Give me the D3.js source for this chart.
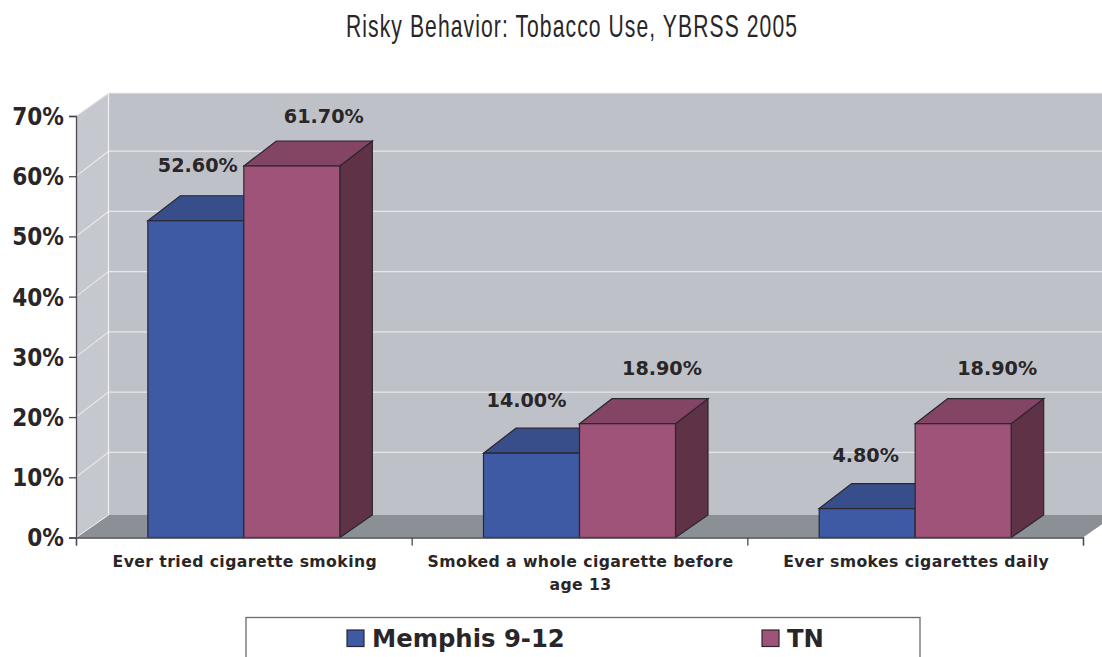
<!DOCTYPE html>
<html>
<head>
<meta charset="utf-8">
<script src="https://cdn.jsdelivr.net/npm/d3@7"></script>
<style>
html,body{margin:0;padding:0;background:#fff;overflow:hidden;}
text{fill:#2a2628;font-family:"DejaVu Sans",sans-serif;font-weight:bold;}
</style>
</head>
<body>
<svg id="chart" width="1102" height="657"></svg>
<script>
var categories=[["Ever tried cigarette smoking"],["Smoked a whole cigarette before","age 13"],["Ever smokes cigarettes daily"]];
var seriesNames=["Memphis 9-12","TN"];
var memphis=[52.6,14.0,4.8];
var tn=[61.7,18.9,18.9];
var yTicks=[0,10,20,30,40,50,60,70];
var front=["#3e5aa5","#a05378"],top3d=["#384e8a","#834563"],side=["#2f4175","#603247"];
var edge="#2b2730";
// hand placement of the value labels: nudge from bar centre, lift above bar top
var labelNudge=[[2,-5,-1.5],[32,34.5,34]],labelLift=[[48.5,46,47],[43,48.5,48.5]];

var W=1102,dx=32.5,dy=-22.5,barDy=-25,wallTop=93;
var svg=d3.select("#chart");
var y=d3.scaleLinear().domain([0,70]).range([537.5,116]);
var x0=d3.scaleBand().domain(d3.range(3)).range([76,1083]);
var x1=d3.scaleBand().domain(d3.range(2)).range([0,192]);
var xEdge=d3.scaleLinear().domain([0,3]).range([76,1083]);
var poly=function(p){return p.map(function(q){return q.join(",");}).join(" ");};

svg.append("text").attr("transform","translate(346,37) scale(0.66,1)")
   .style("font-family","'Liberation Sans',sans-serif").style("font-weight","normal")
   .style("font-size","32px").style("letter-spacing","1.63px")
   .text("Risky Behavior: Tobacco Use, YBRSS 2005");

// walls and floor
var plot=svg.append("g");
plot.append("polygon").attr("fill","#bec1c8")
    .attr("points",poly([[76+dx,wallTop],[W,wallTop],[W,y(0)+dy],[76+dx,y(0)+dy]]));
plot.append("polygon").attr("fill","#c6c8cf")
    .attr("points",poly([[76,y(70)],[76+dx,wallTop],[76+dx,y(0)+dy],[76,y(0)]]));
plot.append("polygon").attr("fill","#8a9096")
    .attr("points",poly([[76,y(0)],[76+dx,y(0)+dy],[W,y(0)+dy],[W,y(0)-(W-1083)*22.5/32.5],[1083,y(0)]]));
plot.selectAll(".grid").data(yTicks.slice(1,7)).enter().append("path").attr("class","grid")
    .attr("fill","none").attr("stroke","#e6e7ea").attr("stroke-width",1.2)
    .attr("d",function(d){return "M76,"+y(d)+"L"+(76+dx)+","+(y(d)-25)+"H"+W;});
plot.append("path").attr("fill","none").attr("stroke","#eceded").attr("stroke-width",1.2)
    .attr("d","M76,"+y(70)+"L"+(76+dx)+","+wallTop+"H"+W);
plot.append("line").attr("x1",76+dx).attr("x2",76+dx).attr("y1",wallTop).attr("y2",y(0)+dy)
    .attr("stroke","#f2f2f4").attr("stroke-width",1.2);
plot.append("line").attr("x1",76).attr("x2",76+dx).attr("y1",y(0)).attr("y2",y(0)+dy)
    .attr("stroke","#f2f2f4").attr("stroke-width",1);

// bars, blue first so that TN sits over it
[memphis,tn].forEach(function(vals,s){
    var g=svg.append("g").selectAll("g").data(vals).enter().append("g");
    var bx=function(i){return x0(i)+(x0.bandwidth()-192)/2+x1(s);};
    g.append("polygon").attr("fill",side[s]).attr("stroke",edge).attr("stroke-width",1.2)
     .attr("points",function(d,i){var r=bx(i)+x1.bandwidth();
        return poly([[r,y(d)],[r+dx,y(d)+barDy],[r+dx,y(0)+dy],[r,y(0)]]);});
    g.append("polygon").attr("fill",top3d[s]).attr("stroke",edge).attr("stroke-width",1.2)
     .attr("points",function(d,i){var l=bx(i),r=l+x1.bandwidth();
        return poly([[l,y(d)],[l+dx,y(d)+barDy],[r+dx,y(d)+barDy],[r,y(d)]]);});
    g.append("rect").attr("fill",front[s]).attr("stroke",edge).attr("stroke-width",1.2)
     .attr("x",function(d,i){return bx(i);}).attr("y",function(d){return y(d);})
     .attr("width",x1.bandwidth()).attr("height",function(d){return y(0)-y(d);});
    g.append("text").attr("text-anchor","middle").style("font-size","19.2px")
     .attr("x",function(d,i){return bx(i)+x1.bandwidth()/2+labelNudge[s][i];})
     .attr("y",function(d,i){return y(d)-labelLift[s][i];})
     .text(function(d){return d.toFixed(2)+"%";});
});

// axes
var yAxis=svg.append("g").attr("transform","translate(76,0)")
    .call(d3.axisLeft(y).tickValues(yTicks).tickFormat(function(d){return d+"%";}).tickSize(7).tickPadding(5));
yAxis.selectAll("text").attr("dy",".35em").style("font-size","24px").style("font-stretch","condensed");
svg.append("g").attr("transform","translate(0,537.5)")
    .call(d3.axisBottom(xEdge).tickValues(d3.range(4)).tickFormat("").tickSize(8));
svg.selectAll(".domain,.tick line").attr("stroke","#4a4a4e").attr("stroke-width",1.3);

var lab=svg.append("g").selectAll("text").data(categories).enter().append("text")
    .attr("text-anchor","middle").style("font-size","15.7px").style("letter-spacing","0.4px")
    .attr("y",567);
lab.each(function(lines,c){
    d3.select(this).selectAll("tspan").data(lines).enter().append("tspan")
      .attr("x",x0(c)+x0.bandwidth()/2+1)
      .attr("dy",function(d,i){return i?23:0;}).text(function(d){return d;});
});

// legend, cut off by the bottom of the page as in the source
var lg=svg.append("g");
lg.append("rect").attr("x",246).attr("y",617.5).attr("width",674).attr("height",60)
  .attr("fill","#fff").attr("stroke","#6a6a6a").attr("stroke-width",1.3);
var legendX=d3.scaleOrdinal().domain(seriesNames).range([347,762]);
seriesNames.forEach(function(n,i){
    lg.append("rect").attr("x",legendX(n)).attr("y",630).attr("width",17).attr("height",16.5)
      .attr("fill",front[i]).attr("stroke",edge).attr("stroke-width",1.2);
    lg.append("text").attr("x",legendX(n)+25).attr("y",647).style("font-size","24.3px").text(n);
});
</script>
</body>
</html>
